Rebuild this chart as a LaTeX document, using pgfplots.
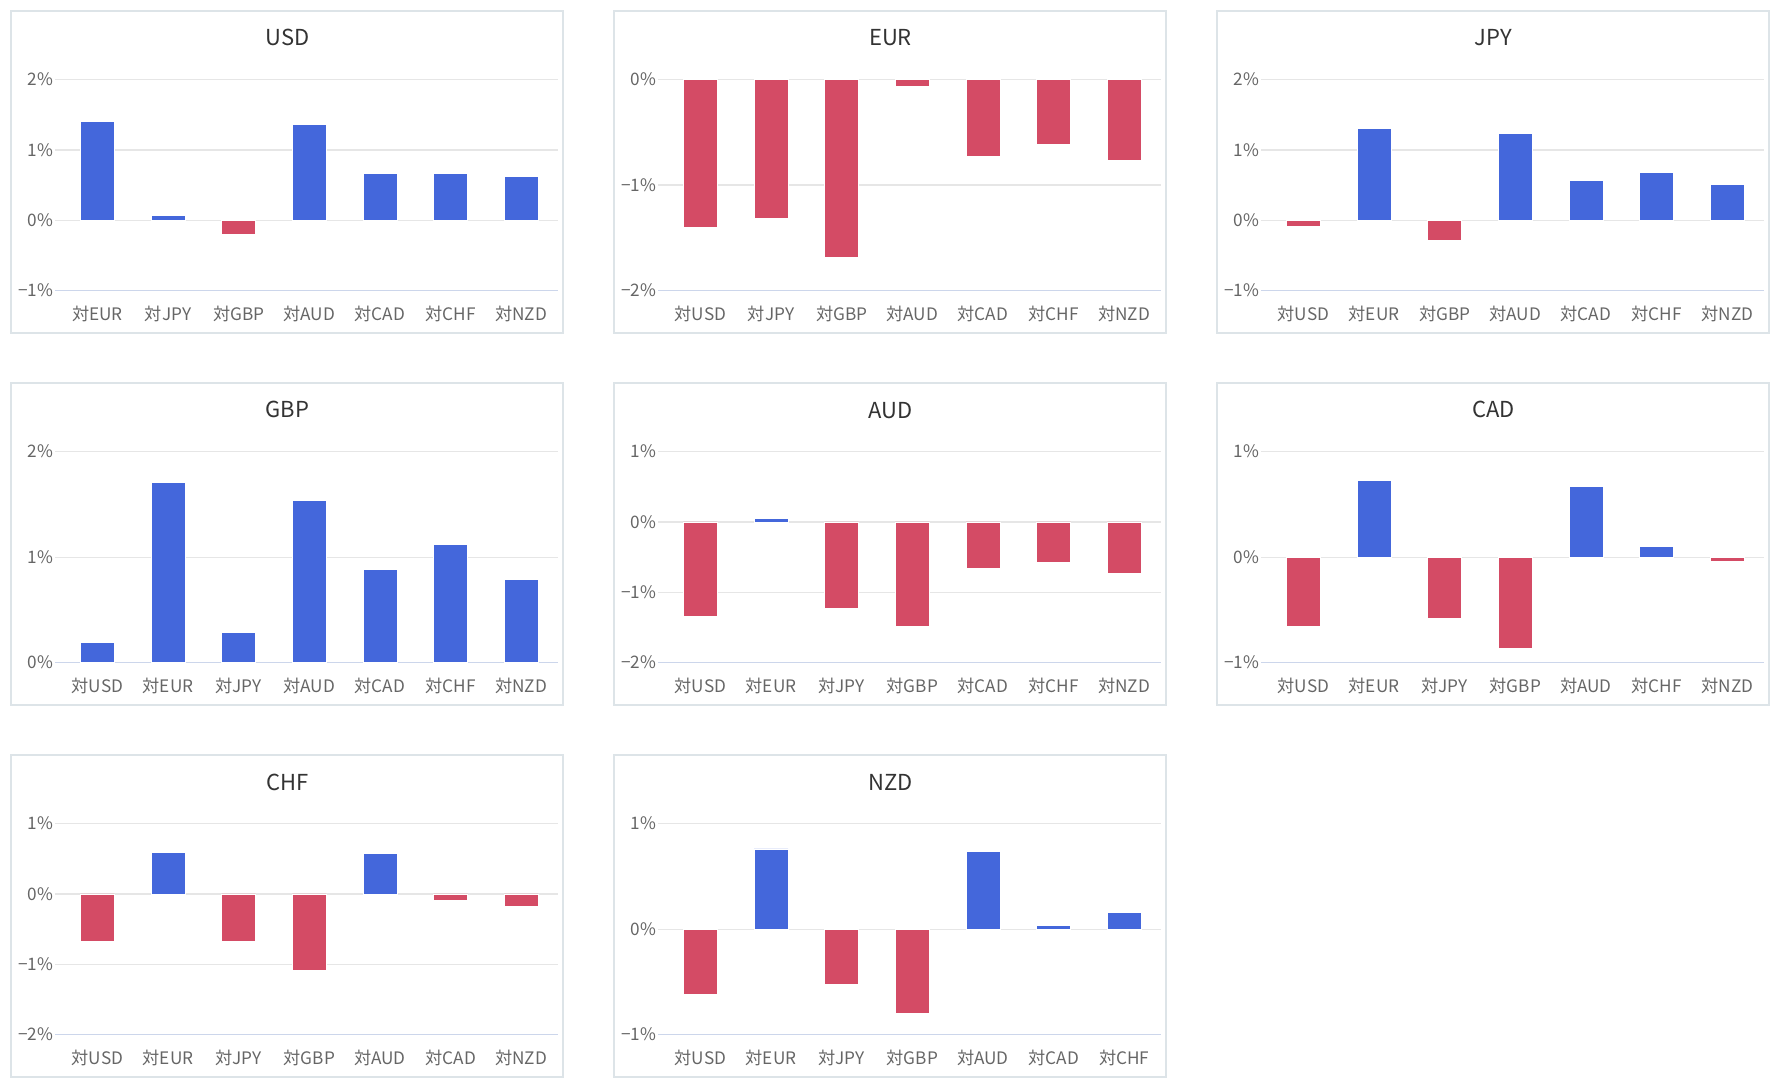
\documentclass[border=0pt]{standalone}
\usepackage{fontspec}
\setmainfont{Noto Sans CJK JP}
\usepackage{pgfplots}
\pgfplotsset{compat=1.18}
\definecolor{posblue}{HTML}{4467DB}
\definecolor{negred}{HTML}{D44B65}
\definecolor{gridc}{HTML}{E6E6E6}
\definecolor{axisc}{HTML}{CCD6EB}
\definecolor{framec}{HTML}{DDE4E8}
\definecolor{titlec}{HTML}{333333}
\definecolor{tickc}{HTML}{666666}
\pgfplotsset{
  panel/.style={
    scale only axis, width=251.5pt, height=105.5pt,
    anchor=south west,
    xmin=-0.6, xmax=6.52,
    xtick={0,...,6},
    axis x line*=bottom, axis y line*=left,
    x axis line style={draw=axisc, line width=0.7pt, -},
    y axis line style={draw=none},
    major tick length=0pt,
    ymajorgrids, grid style={draw=gridc, line width=0.6pt},
    ticklabel style={font=\fontsize{8.6}{10}\selectfont, text=tickc},
    xticklabel style={anchor=base, inner sep=0pt, yshift=-15pt},
    yticklabel style={anchor=east, inner sep=0pt, xshift=-0.8pt},
    title style={at={(0.5,1)}, anchor=base, yshift=10.8pt, xshift=-9.5pt, inner sep=0pt,
      font=\fontsize{11}{13}\selectfont, text=titlec},
  },
  pos/.style={ybar, bar width=0.48, bar shift=0pt, fill=posblue, draw=white, line width=0.4pt},
  neg/.style={ybar, bar width=0.48, bar shift=0pt, fill=negred, draw=white, line width=0.4pt},
}
\begin{document}
\begin{tikzpicture}
\path (0,0) rectangle (890pt,544pt);
% frames
\foreach \fx/\fy in {5.5/538.5, 307/538.5, 608.5/538.5, 5.5/352.5, 307/352.5, 608.5/352.5, 5.5/166.5, 307/166.5}{
  \draw[framec, line width=0.8pt] (\fx pt,\fy pt) rectangle ++(276pt,-161pt);
}
% USD
\begin{axis}[panel, at={(27.5pt,398.7pt)}, title={USD},
  ymin=-1, ymax=2, ytick={-1,0,1,2}, yticklabels={−1\%,0\%,1\%,2\%},
  xticklabels={対EUR,対JPY,対GBP,対AUD,対CAD,対CHF,対NZD}]
\addplot[pos] coordinates {(0,1.41) (1,0.07) (3,1.36) (4,0.665) (5,0.665) (6,0.62)};
\addplot[neg] coordinates {(2,-0.20)};
\end{axis}
% EUR
\begin{axis}[panel, at={(329pt,398.7pt)}, title={EUR},
  ymin=-2, ymax=0, ytick={-2,-1,0}, yticklabels={−2\%,−1\%,0\%},
  xticklabels={対USD,対JPY,対GBP,対AUD,対CAD,対CHF,対NZD}]
\addplot[neg] coordinates {(0,-1.40) (1,-1.32) (2,-1.69) (3,-0.066) (4,-0.725) (5,-0.61) (6,-0.77)};
\end{axis}
% JPY
\begin{axis}[panel, at={(630.5pt,398.7pt)}, title={JPY},
  ymin=-1, ymax=2, ytick={-1,0,1,2}, yticklabels={−1\%,0\%,1\%,2\%},
  xticklabels={対USD,対EUR,対GBP,対AUD,対CAD,対CHF,対NZD}]
\addplot[pos] coordinates {(1,1.30) (3,1.23) (4,0.57) (5,0.68) (6,0.51)};
\addplot[neg] coordinates {(0,-0.085) (2,-0.28)};
\end{axis}
% GBP
\begin{axis}[panel, at={(27.5pt,212.7pt)}, title={GBP},
  ymin=0, ymax=2, ytick={0,1,2}, yticklabels={0\%,1\%,2\%},
  xticklabels={対USD,対EUR,対JPY,対AUD,対CAD,対CHF,対NZD}]
\addplot[pos] coordinates {(0,0.19) (1,1.705) (2,0.29) (3,1.54) (4,0.88) (5,1.12) (6,0.79)};
\end{axis}
% AUD
\begin{axis}[panel, at={(329pt,212.7pt)}, title={AUD},
  ymin=-2, ymax=1, ytick={-2,-1,0,1}, yticklabels={−2\%,−1\%,0\%,1\%},
  xticklabels={対USD,対EUR,対JPY,対GBP,対CAD,対CHF,対NZD}]
\addplot[pos] coordinates {(1,0.05)};
\addplot[neg] coordinates {(0,-1.34) (2,-1.23) (3,-1.49) (4,-0.66) (5,-0.57) (6,-0.73)};
\end{axis}
% CAD
\begin{axis}[panel, at={(630.5pt,212.7pt)}, title={CAD},
  ymin=-1, ymax=1, ytick={-1,0,1}, yticklabels={−1\%,0\%,1\%},
  xticklabels={対USD,対EUR,対JPY,対GBP,対AUD,対CHF,対NZD}]
\addplot[pos] coordinates {(1,0.727) (4,0.668) (5,0.097)};
\addplot[neg] coordinates {(0,-0.655) (2,-0.58) (3,-0.865) (6,-0.04)};
\end{axis}
% CHF
\begin{axis}[panel, at={(27.5pt,26.7pt)}, title={CHF},
  ymin=-2, ymax=1, ytick={-2,-1,0,1}, yticklabels={−2\%,−1\%,0\%,1\%},
  xticklabels={対USD,対EUR,対JPY,対GBP,対AUD,対CAD,対NZD}]
\addplot[pos] coordinates {(1,0.59) (4,0.57)};
\addplot[neg] coordinates {(0,-0.67) (2,-0.67) (3,-1.09) (5,-0.085) (6,-0.17)};
\end{axis}
% NZD
\begin{axis}[panel, at={(329pt,26.7pt)}, title={NZD},
  ymin=-1, ymax=1, ytick={-1,0,1}, yticklabels={−1\%,0\%,1\%},
  xticklabels={対USD,対EUR,対JPY,対GBP,対AUD,対CAD,対CHF}]
\addplot[pos] coordinates {(1,0.76) (4,0.74) (5,0.035) (6,0.155)};
\addplot[neg] coordinates {(0,-0.615) (2,-0.525) (3,-0.795)};
\end{axis}
\end{tikzpicture}
\end{document}
